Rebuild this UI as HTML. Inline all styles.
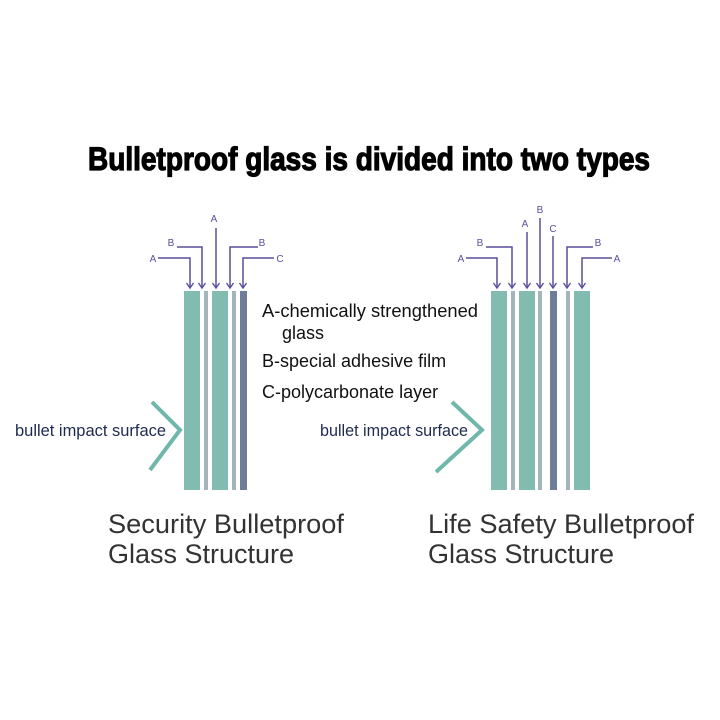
<!DOCTYPE html>
<html><head><meta charset="utf-8"><style>html,body{margin:0;padding:0;background:#fff}svg{display:block}</style></head>
<body>
<svg width="720" height="720" viewBox="0 0 720 720" xmlns="http://www.w3.org/2000/svg" font-family="Liberation Sans, sans-serif">
<defs><marker id="ar" markerWidth="10" markerHeight="10" refX="7" refY="4" orient="auto" markerUnits="userSpaceOnUse"><path d="M2,0.5 L7,4 L2,7.5" fill="none" stroke="#5c4f9a" stroke-width="1.4"/></marker></defs>
<text x="88" y="170" font-size="32" font-weight="bold" textLength="562" lengthAdjust="spacingAndGlyphs" fill="#000" stroke="#000" stroke-width="1.2">Bulletproof glass is divided into two types</text>
<g stroke="#5c4f9a" stroke-width="1.5" fill="none" marker-end="url(#ar)">
<polyline points="158,258 190,258 190,288"/>
<polyline points="177,247 202,247 202,288"/>
<polyline points="216,228 216,288"/>
<polyline points="258,247 230,247 230,288"/>
<polyline points="274,258 243,258 243,288"/>
<polyline points="466,258 497,258 497,288"/>
<polyline points="486,247 512,247 512,288"/>
<polyline points="527,232 527,288"/>
<polyline points="540,218 540,288"/>
<polyline points="553,236 553,288"/>
<polyline points="593,247 567,247 567,288"/>
<polyline points="612,258 582,258 582,288"/>
</g>
<g font-size="10" fill="#5c4f9a" text-anchor="middle">
<text x="214" y="222">A</text><text x="171" y="246">B</text><text x="153" y="262">A</text><text x="262" y="246">B</text><text x="280" y="262">C</text>
<text x="461" y="262">A</text><text x="480" y="246">B</text><text x="525" y="227">A</text><text x="540" y="213">B</text><text x="553" y="232">C</text><text x="598" y="246">B</text><text x="617" y="262">A</text>
</g>
<g fill="#82bcb1">
<rect x="184" y="291" width="16" height="199"/><rect x="212" y="291" width="16" height="199"/>
<rect x="491" y="291" width="16" height="199"/><rect x="519" y="291" width="16" height="199"/><rect x="574" y="291" width="16" height="199"/>
</g>
<g fill="#a3b4bb">
<rect x="204" y="291" width="4" height="199"/><rect x="232" y="291" width="4" height="199"/>
<rect x="511" y="291" width="4" height="199"/><rect x="538" y="291" width="4" height="199"/><rect x="566" y="291" width="4" height="199"/>
</g>
<g fill="#6e7e99"><rect x="240" y="291" width="7" height="199"/><rect x="550" y="291" width="7" height="199"/></g>
<g stroke="#6fb7ab" stroke-width="4" fill="none">
<polyline points="152,402 180,430 150,470"/>
<polyline points="452,402 482,430 436,472"/>
</g>
<g font-size="16.5" fill="#1e2a50">
<text x="15" y="436" textLength="151" lengthAdjust="spacingAndGlyphs">bullet impact surface</text>
<text x="320" y="436" textLength="148" lengthAdjust="spacingAndGlyphs">bullet impact surface</text>
</g>
<g font-size="18" fill="#111">
<text x="262" y="317" textLength="216" lengthAdjust="spacingAndGlyphs">A-chemically strengthened</text>
<text x="282" y="339">glass</text>
<text x="262" y="367">B-special adhesive film</text>
<text x="262" y="398">C-polycarbonate layer</text>
</g>
<g font-size="27" fill="#333">
<text x="108" y="533" textLength="236" lengthAdjust="spacingAndGlyphs">Security Bulletproof</text>
<text x="108" y="563">Glass Structure</text>
<text x="428" y="533" textLength="266" lengthAdjust="spacingAndGlyphs">Life Safety Bulletproof</text>
<text x="428" y="563">Glass Structure</text>
</g>
</svg>
</body></html>
